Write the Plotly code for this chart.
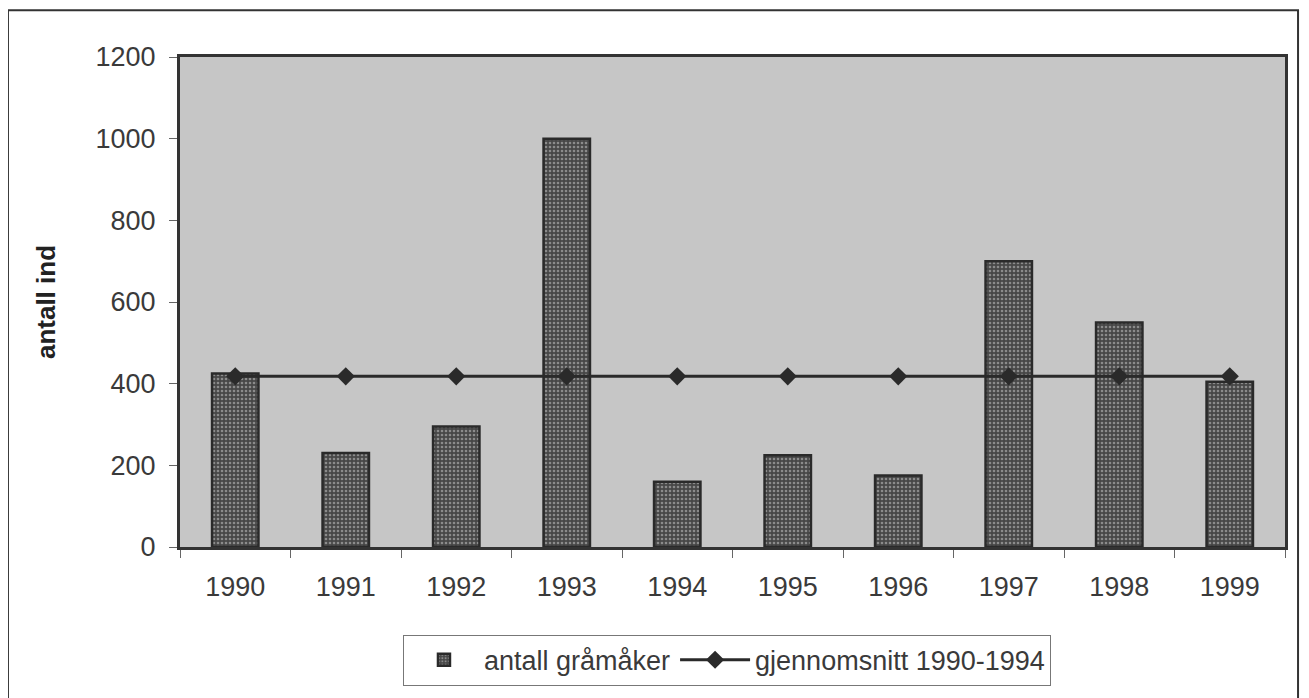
import plotly.graph_objects as go

years = ["1990", "1991", "1992", "1993", "1994", "1995", "1996", "1997", "1998", "1999"]
antall = [425, 230, 295, 1000, 160, 225, 175, 700, 550, 405]
snitt = [418, 418, 418, 418, 418, 418, 418, 418, 418, 418]
yticks = [0, 200, 400, 600, 800, 1000, 1200]

fig = go.Figure()
fig.add_trace(go.Bar(
    x=years, y=antall, name="antall gråmåker",
    marker=dict(color="#5a5a5a", line=dict(color="#2a2a2a", width=2.5),
                pattern=dict(shape=".", fgcolor="#cfcfcf", bgcolor="#474747", size=4, solidity=0.33)),
))
fig.add_trace(go.Scatter(
    x=years, y=snitt, name="gjennomsnitt 1990-1994", mode="lines+markers",
    line=dict(color="#2a2a2a", width=3),
    marker=dict(symbol="diamond", size=14, color="#2a2a2a"),
))

fig.update_layout(
    width=1301, height=690,
    margin=dict(l=172, r=24, t=49, b=148),
    paper_bgcolor="white", plot_bgcolor="#c6c6c6",
    bargap=0.58,
    font=dict(family="Arial, Liberation Sans, sans-serif", size=27, color="#3a3a3a"),
    showlegend=True,
    legend=dict(orientation="h", x=0.495, y=-0.231, xanchor="center", yanchor="middle",
                bordercolor="#777", borderwidth=1, bgcolor="white",
                font=dict(size=27, color="#3a3a3a"), itemwidth=70, tracegroupgap=0),
    xaxis=dict(type="category", range=[-0.5, 9.5], showline=True, mirror=True, linecolor="#333", linewidth=3,
               ticks="outside", tickson="boundaries", ticklen=8, tickcolor="#666",
               ticklabelstandoff=14, showgrid=False, tickfont=dict(size=27)),
    yaxis=dict(range=[0, 1200], tickvals=yticks, showline=True, mirror=True,
               linecolor="#333", linewidth=3, ticks="outside", ticklen=8, tickcolor="#666",
               ticklabelstandoff=8, showgrid=False, zeroline=False, tickfont=dict(size=27),
               title=dict(text="<b>antall ind</b>", font=dict(size=26, color="#222"), standoff=33)),
    shapes=[dict(type="rect", xref="paper", yref="paper", x0=-0.1557, x1=1.0118, y0=-0.33, y1=1.0953,
                 line=dict(color="#333", width=2), fillcolor="rgba(0,0,0,0)", layer="below")],
)

fig.write_html("out.html")
